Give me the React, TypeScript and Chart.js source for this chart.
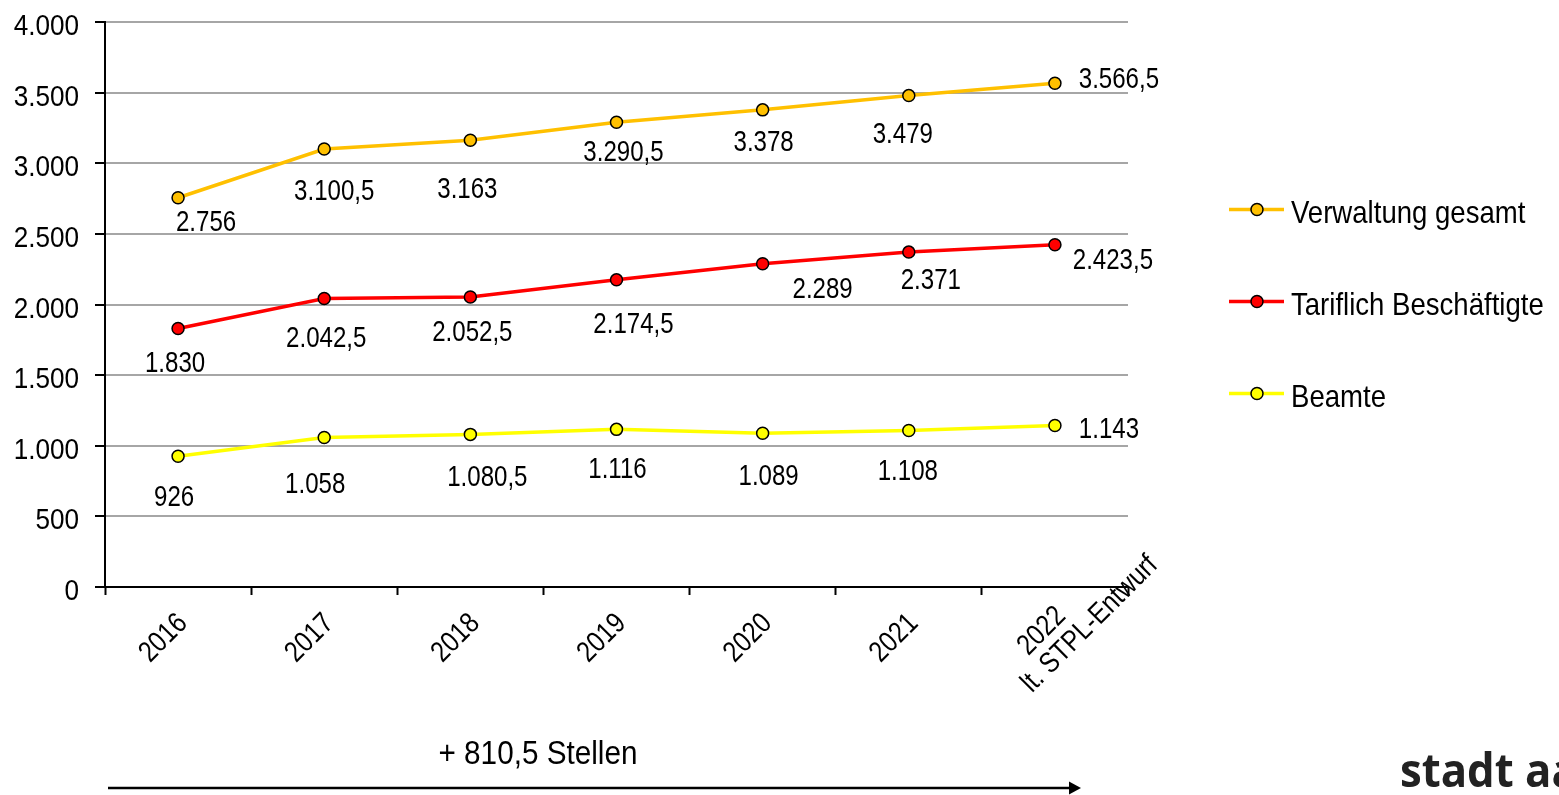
import React, { useEffect, useRef } from "react";
import { Chart, registerables } from "chart.js";

Chart.register(...registerables);

// ---------- data ----------
const categories = ["2016", "2017", "2018", "2019", "2020", "2021", "2022"];
const categoryLabelLines = [
  ["2016"],
  ["2017"],
  ["2018"],
  ["2019"],
  ["2020"],
  ["2021"],
  ["2022", "lt. STPL-Entwurf"],
];
const verwaltungGesamt = [2756, 3100.5, 3163, 3290.5, 3378, 3479, 3566.5];
const tariflichBeschaeftigte = [1830, 2042.5, 2052.5, 2174.5, 2289, 2371, 2423.5];
const beamte = [926, 1058, 1080.5, 1116, 1089, 1108, 1143];
const seriesNames = ["Verwaltung gesamt", "Tariflich Beschäftigte", "Beamte"];
const yMin = 0;
const yMax = 4000;
const yStep = 500;
const annotationText = "+ 810,5 Stellen";
const logoText = "stadt aachen";

// ---------- styles / layout ----------
const seriesColors = ["#FFC000", "#FF0000", "#FFFF00"];
const FONT = '"Liberation Sans", Arial, sans-serif';
// data label offsets (px, relative to the point)
const labelOffsets = [
  [[28, 23], [10, 40], [-3, 47], [7, 28], [1, 31], [-6, 37], [64, -6]],
  [[-3, 33], [2, 38], [2, 33], [17, 43], [60, 24], [22, 26], [58, 14]],
  [[-4, 39], [-9, 45], [17, 41], [1, 38], [6, 41], [-1, 39.5], [54, 2]],
];
// x label line offsets in rotated frame (along text, across text)
const xLabelLineOffsets = [
  [[-19, 26]],
  [[-19, 26]],
  [[-19, 26]],
  [[-19, 26]],
  [[-19, 26]],
  [[-19, 26]],
  [[-13, 22], [88, 51]],
];

function fmtDE(v: number): string {
  const isInt = Math.abs(v % 1) < 1e-9;
  const s = Math.abs(v).toFixed(isInt ? 0 : 1);
  const [i, d] = s.split(".");
  const ip = i.replace(/\B(?=(\d{3})+(?!\d))/g, ".");
  return (v < 0 ? "-" : "") + (d ? ip + "," + d : ip);
}

function drawText(
  ctx: CanvasRenderingContext2D,
  text: string,
  x: number,
  y: number,
  o: { size: number; sx: number; align: CanvasTextAlign; baseline: CanvasTextBaseline; rot?: number; weight?: string; family?: string; color?: string }
) {
  ctx.save();
  ctx.translate(x, y);
  if (o.rot) ctx.rotate(o.rot);
  ctx.scale(o.sx, 1);
  ctx.font = `${o.weight || "normal"} ${o.size}px ${o.family || FONT}`;
  ctx.textAlign = o.align;
  ctx.textBaseline = o.baseline;
  ctx.fillStyle = o.color || "#000";
  ctx.fillText(text, 0, 0);
  ctx.restore();
}

const overlayPlugin = {
  id: "overlay",
  afterDraw(chart: any) {
    const ctx: CanvasRenderingContext2D = chart.ctx;
    const xs = chart.scales.x;
    const ys = chart.scales.y;
    const area = chart.chartArea;

    // y tick labels
    for (let v = yMin; v <= yMax; v += yStep) {
      const py = ys.getPixelForValue(v);
      drawText(ctx, fmtDE(v), 79, py + 13, { size: 29, sx: 0.9, align: "right", baseline: "alphabetic" });
    }

    // x labels (rotated)
    const c = Math.SQRT1_2;
    categoryLabelLines.forEach((lines, i) => {
      const cx = xs.getPixelForValue(i);
      lines.forEach((line, j) => {
        const [du, dv] = xLabelLineOffsets[i][j];
        const ax = cx + c * (du + dv);
        const ay = area.bottom + c * (-du + dv);
        drawText(ctx, line, ax, ay, { size: 29, sx: 0.85, align: "right", baseline: "middle", rot: -Math.PI / 4 });
      });
    });

    // data labels
    chart.data.datasets.forEach((ds: any, si: number) => {
      ds.data.forEach((v: number, i: number) => {
        const px = xs.getPixelForValue(i);
        const py = ys.getPixelForValue(v);
        const [dx, dy] = labelOffsets[si][i];
        drawText(ctx, fmtDE(v), px + dx, py + dy + 10.5, { size: 29, sx: 0.83, align: "center", baseline: "alphabetic" });
      });
    });

    // legend
    seriesNames.forEach((name, i) => {
      const ly = 209.5 + i * 92;
      ctx.save();
      ctx.strokeStyle = seriesColors[i];
      ctx.lineWidth = 3.5;
      ctx.beginPath();
      ctx.moveTo(1229, ly);
      ctx.lineTo(1284, ly);
      ctx.stroke();
      ctx.beginPath();
      ctx.arc(1257, ly, 6, 0, Math.PI * 2);
      ctx.fillStyle = seriesColors[i];
      ctx.fill();
      ctx.lineWidth = 1.5;
      ctx.strokeStyle = "#000";
      ctx.stroke();
      ctx.restore();
      drawText(ctx, name, 1291, ly + 13, { size: 31.5, sx: 0.875, align: "left", baseline: "alphabetic" });
    });

    // annotation + arrow
    drawText(ctx, annotationText, 538, 764, { size: 33, sx: 0.9, align: "center", baseline: "alphabetic" });
    ctx.save();
    ctx.strokeStyle = "#000";
    ctx.fillStyle = "#000";
    ctx.lineWidth = 2.5;
    ctx.beginPath();
    ctx.moveTo(108, 788);
    ctx.lineTo(1072, 788);
    ctx.stroke();
    ctx.beginPath();
    ctx.moveTo(1081, 788);
    ctx.lineTo(1069, 781.5);
    ctx.lineTo(1069, 794.5);
    ctx.closePath();
    ctx.fill();
    ctx.restore();

    // logo
    drawText(ctx, logoText, 1400, 787, { size: 46, sx: 0.95, align: "left", baseline: "alphabetic", weight: "bold", family: '"Open Sans", sans-serif', color: "#222" });
  },
};

export default function App() {
  const ref = useRef<HTMLCanvasElement | null>(null);

  useEffect(() => {
    const prevMargin = document.body.style.margin;
    document.body.style.margin = "0";
    const canvas = ref.current!;
    const seriesData = [verwaltungGesamt, tariflichBeschaeftigte, beamte];
    const chart = new Chart(canvas, {
      type: "line",
      data: {
        labels: categories,
        datasets: seriesData.map((d, i) => ({
          label: seriesNames[i],
          data: d,
          borderColor: seriesColors[i],
          backgroundColor: seriesColors[i],
          borderWidth: 3.5,
          pointRadius: 6,
          pointHoverRadius: 6,
          pointBackgroundColor: seriesColors[i],
          pointBorderColor: "#000",
          pointBorderWidth: 1.5,
          tension: 0,
          fill: false,
        })),
      },
      options: {
        responsive: false,
        animation: false,
        events: [],
        layout: { padding: { top: 22, right: 431, left: 0, bottom: 0 } },
        plugins: { legend: { display: false }, tooltip: { enabled: false } },
        scales: {
          x: {
            type: "category",
            offset: true,
            grid: {
              offset: true,
              drawOnChartArea: false,
              drawTicks: true,
              tickLength: 8,
              tickWidth: 2,
              tickColor: (ctx: any) => (ctx.index >= categories.length ? "rgba(0,0,0,0)" : "#000"),
            },
            border: { color: "#000", width: 2 },
            ticks: { display: false },
            afterFit: (s: any) => {
              s.height = 208;
            },
          },
          y: {
            min: yMin,
            max: yMax,
            ticks: { stepSize: yStep, display: false },
            grid: { color: "#A6A6A6", lineWidth: 2, tickLength: 10, tickColor: "#000", tickWidth: 2 },
            border: { color: "#000", width: 2 },
            afterFit: (s: any) => {
              s.width = 105;
            },
          },
        },
      } as any,
      plugins: [overlayPlugin],
    });
    return () => {
      chart.destroy();
      document.body.style.margin = prevMargin;
    };
  }, []);

  return (
    <div style={{ position: "absolute", left: 0, top: 0, width: 1559, height: 795, background: "#fff" }}>
      <canvas ref={ref} width={1559} height={795} style={{ display: "block", width: 1559, height: 795 }} />
    </div>
  );
}
